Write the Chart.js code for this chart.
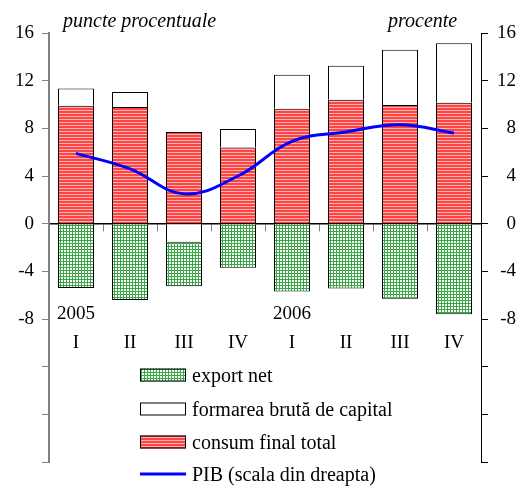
<!DOCTYPE html>
<html>
<head>
<meta charset="utf-8">
<script src="https://cdn.jsdelivr.net/npm/chart.js@4/dist/chart.umd.min.js"></script>
<style>
  html, body { margin: 0; padding: 0; background: #fff; }
  #wrap { width: 520px; height: 486px; }
</style>
</head>
<body>
<div id="wrap"><canvas id="c" width="520" height="486"></canvas></div>
<script>
// Quarters and years shown under the bars
const categories = ['I', 'II', 'III', 'IV', 'I', 'II', 'III', 'IV'];
const years = ['2005', '', '', '', '2006', '', '', ''];

// Contributions to GDP growth (percentage points)
const consumFinal = [9.9, 9.8, 7.7, 6.4, 9.65, 10.4, 9.95, 10.15];
const formareCapital = [1.45, 1.25, -1.6, 1.55, 2.85, 2.85, 4.65, 5.0];
const exportNet = [-5.4, -6.4, -3.65, -3.7, -5.7, -5.45, -6.3, -7.6];

// GDP growth (percent, right-hand scale)
const pib = [5.9, 4.6, 2.5, 4.0, 6.9, 7.7, 8.3, 7.6];

// Axis range and which tick values carry a label
const axisMin = -20;
const axisMax = 16;
const axisStep = 4;
const lowestLabel = -8;

const titleLeft = 'puncte procentuale';
const titleRight = 'procente';

const legendOrder = [2, 1, 0, 3];

const serif = "'Liberation Serif', 'Times New Roman', serif";

function stripePattern() {
  const c = document.createElement('canvas');
  c.width = 3; c.height = 3;
  const g = c.getContext('2d');
  g.fillStyle = '#ff4444';
  g.fillRect(0, 0, 3, 3);
  g.fillStyle = '#ffb4b4';
  g.fillRect(0, 2, 3, 1);
  return g.createPattern(c, 'repeat');
}

function gridPattern() {
  const c = document.createElement('canvas');
  c.width = 3; c.height = 3;
  const g = c.getContext('2d');
  g.fillStyle = '#ffffff';
  g.fillRect(0, 0, 3, 3);
  g.fillStyle = '#3aa646';
  g.fillRect(0, 0, 3, 1);
  g.fillRect(0, 0, 1, 3);
  return g.createPattern(c, 'repeat');
}

const redFill = stripePattern();
const greenFill = gridPattern();

const annotations = {
  id: 'annotations',
  afterDraw(chart) {
    const ctx = chart.ctx;
    const xs = chart.scales.x;
    const ys = chart.scales.y;
    const zeroY = ys.getPixelForValue(0);
    ctx.save();
    ctx.fillStyle = '#000';

    // axis titles
    ctx.font = 'italic 20px ' + serif;
    ctx.textBaseline = 'alphabetic';
    ctx.textAlign = 'left';
    ctx.fillText(titleLeft, 63, 27);
    ctx.fillText(titleRight, 388, 27);

    // category labels
    ctx.font = '19px ' + serif;
    ctx.textAlign = 'center';
    categories.forEach((lab, i) => {
      const x = xs.getPixelForValue(i);
      ctx.fillText(lab, x, zeroY + 124);
      if (years[i]) ctx.fillText(years[i], x, zeroY + 95);
    });

    // legend
    const ds = chart.data.datasets;
    const rows = [375, 409, 442, 474];
    ctx.font = '20px ' + serif;
    ctx.textAlign = 'left';
    legendOrder.forEach((di, r) => {
      const d = ds[di];
      const cy = rows[r];
      if (d.type === 'line') {
        ctx.strokeStyle = d.borderColor;
        ctx.lineWidth = d.borderWidth;
        ctx.beginPath();
        ctx.moveTo(140, cy);
        ctx.lineTo(186, cy);
        ctx.stroke();
      } else {
        ctx.fillStyle = d.backgroundColor;
        ctx.fillRect(140, cy - 6.5, 46, 13);
        ctx.strokeStyle = '#000';
        ctx.lineWidth = 1;
        ctx.strokeRect(140.5, cy - 6, 45, 12);
      }
      ctx.fillStyle = '#000';
      ctx.fillText(d.label, 192, cy + 7);
    });
    ctx.restore();
  }
};

const tickFont = { family: serif, size: 19 };
const labelCb = v => (v < lowestLabel ? '' : String(v));

new Chart(document.getElementById('c'), {
  type: 'bar',
  data: {
    labels: categories,
    datasets: [
      { label: 'consum final total', data: consumFinal, backgroundColor: redFill,
        borderColor: '#000', borderWidth: 1, borderSkipped: 'start', yAxisID: 'y', order: 1 },
      { label: 'formarea brută de capital', data: formareCapital, backgroundColor: '#ffffff',
        borderColor: '#000', borderWidth: 1, borderSkipped: 'start', yAxisID: 'y', order: 1 },
      { label: 'export net', data: exportNet, backgroundColor: greenFill,
        borderColor: '#000', borderWidth: 1, borderSkipped: 'start', yAxisID: 'y', order: 1 },
      { type: 'line', label: 'PIB (scala din dreapta)', data: pib, yAxisID: 'y1',
        borderColor: '#0000ff', borderWidth: 3, pointRadius: 0, tension: 0.4,
        fill: false, order: 0 }
    ]
  },
  options: {
    responsive: false,
    animation: false,
    devicePixelRatio: 1,
    layout: { padding: { left: 0, right: 4, top: 33, bottom: 24 } },
    datasets: { bar: { categoryPercentage: 1, barPercentage: 0.667 } },
    plugins: { legend: { display: false }, tooltip: { enabled: false } },
    scales: {
      x: {
        type: 'category',
        position: { y: 0 },
        stacked: true,
        offset: true,
        ticks: { display: false },
        grid: { offset: true, drawOnChartArea: false, drawTicks: true, tickLength: 7, color: '#808080' },
        border: { display: true, color: '#000', width: 1.5 }
      },
      y: {
        position: 'left',
        stacked: true,
        min: axisMin, max: axisMax,
        ticks: { stepSize: axisStep, font: tickFont, color: '#000', padding: 8, callback: labelCb },
        grid: { drawOnChartArea: false, drawTicks: true, tickLength: 7, color: '#808080' },
        border: { display: true, color: '#808080', width: 2 },
        afterFit: s => { s.width = 49; }
      },
      y1: {
        position: 'right',
        stacked: false,
        min: axisMin, max: axisMax,
        ticks: { stepSize: axisStep, font: tickFont, color: '#000', padding: 8, crossAlign: 'far', callback: labelCb },
        grid: { drawOnChartArea: false, drawTicks: true, tickLength: 7, color: '#000' },
        border: { display: true, color: '#000', width: 1 },
        afterFit: s => { s.width = 35; }
      }
    }
  },
  plugins: [annotations]
});
</script>
</body>
</html>
